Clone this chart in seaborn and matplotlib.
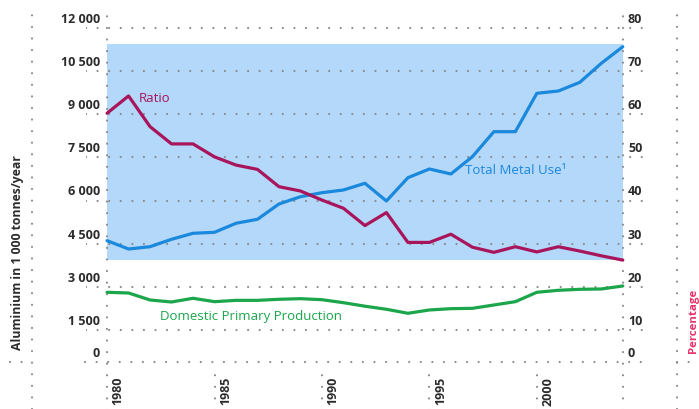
import matplotlib.pyplot as plt
import matplotlib.transforms as mtransforms
from matplotlib.lines import Line2D
import seaborn as sns

# Data
years = list(range(1980, 2005))
total_metal_use = [4605, 4316, 4396, 4653, 4861, 4896, 5209, 5348, 5879, 6132,
                   6271, 6365, 6598, 5983, 6792, 7094, 6921, 7521, 8389, 8389,
                   9722, 9802, 10104, 10764, 11340]
domestic_production = [2813, 2789, 2546, 2476, 2605, 2487, 2533, 2533, 2570, 2591,
                       2556, 2452, 2330, 2223, 2084, 2199, 2244, 2256, 2372, 2487,
                       2813, 2882, 2917, 2928, 3032]
ratio = [60.2, 64.2, 57.1, 53.1, 53.1, 50.1, 48.2, 47.2, 43.2, 42.2,
         40.1, 38.2, 34.2, 37.2, 30.3, 30.3, 32.2, 29.2, 28.0, 29.3,
         28.1, 29.3, 28.3, 27.2, 26.2]

left_ticks = [0, 1500, 3000, 4500, 6000, 7500, 9000, 10500, 12000]
left_labels = ["0", "1 500", "3 000", "4 500", "6 000", "7 500", "9 000", "10 500", "12 000"]
right_ticks = [0, 10, 20, 30, 40, 50, 60, 70, 80]
right_labels = ["0", "10", "20", "30", "40", "50", "60", "70", "80"]
year_ticks = [1980, 1985, 1990, 1995, 2000]
year_labels = ["1980", "1985", "1990", "1995", "2000"]

BLUE = "#1a88dc"
PANEL = "#b3d8fa"
RED = "#a8155a"
GREEN = "#1ba64b"
PINK = "#e6336b"
DOTS = "#8c8c8c"
TEXT = "#2b2b2b"

sns.set_style("white")
plt.rcParams["font.family"] = ["Open Sans", "DejaVu Sans"]

W, H = 699, 409
fig = plt.figure(figsize=(W / 100, H / 100), dpi=100)
ax = fig.add_axes([86 / W, (H - 361.7) / H, 557 / W, 356.7 / H])
ax.set_xlim(1979.02, 2004.94)
ax.set_ylim(403, 12788)
ax2 = ax.twinx()
ax2.set_ylim(2.69, 85.25)

for a in (ax, ax2):
    for s in a.spines.values():
        s.set_visible(False)
    a.set_yticks([])

dot = dict(color=DOTS, lw=1.6, ls=(0, (0.01, 5.2)), dash_capstyle="round")

# blue background panel
ax.fill_between([1980, 2004], 3934, 11417, color=PANEL, lw=0, zorder=0)

# dotted grid
for v in left_ticks[1:]:
    ax.axhline(v, zorder=1, **dot)
for x in (1980, 2004):
    ax.axvline(x, ymin=-0.14, ymax=1, clip_on=False, zorder=1, **dot)
for x in year_ticks[1:]:
    ax.axvline(x, ymin=-0.14, ymax=-0.035, clip_on=False, zorder=1, **dot)

yb = 1 - 361.7 / H
for x0, x1 in [(10, 32), (85, 643), (677, 699)]:
    fig.add_artist(Line2D([x0 / W, x1 / W], [yb, yb], **dot))
for x in (32, 677):
    fig.add_artist(Line2D([x / W, x / W], [0, 1 - 6 / H], **dot))

# series
sns.lineplot(x=years, y=total_metal_use, ax=ax, color=BLUE, lw=2.3, zorder=3)
sns.lineplot(x=years, y=domestic_production, ax=ax, color=GREEN, lw=2.3, zorder=3)
sns.lineplot(x=years, y=ratio, ax=ax2, color=RED, lw=2.3, zorder=3)

# y tick labels (above gridlines)
for v, lab in zip(left_ticks, left_labels):
    ax.text(0.0251, max(v, 403) + 175, lab, transform=ax.get_yaxis_transform(),
            ha="right", va="baseline", fontsize=9, fontweight="bold", color=TEXT)
for v, lab in zip(right_ticks, right_labels):
    ax2.text(0.973, max(v, 2.69) + 1.16, lab, transform=ax2.get_yaxis_transform(),
             ha="left", va="baseline", fontsize=9, fontweight="bold", color=TEXT)

# x ticks
ax.set_xticks(year_ticks, labels=year_labels, rotation=90, fontsize=9,
              fontweight="bold", color=TEXT)
ax.tick_params(axis="x", length=0, pad=11)
offset = mtransforms.ScaledTranslation(11 / 100, 0, fig.dpi_scale_trans)
for lab in ax.get_xticklabels():
    lab.set_transform(lab.get_transform() + offset)

# series labels
ax.text(1982.23, 9542, "Ratio", color=RED, fontsize=9.5, ha="center", va="center")
ax.text(1999.03, 7025, "Total Metal Use\u00b9", color=BLUE, fontsize=9.5,
        ha="center", va="center")
ax.text(1986.70, 1973, "Domestic Primary Production", color=GREEN, fontsize=9.5,
        ha="center", va="center")

# axis titles
fig.text(18 / W, 1 - 253 / H, "Aluminium in 1 000 tonnes/year", rotation=90,
         ha="center", va="center", fontsize=8.8, fontweight="bold", color=TEXT)
fig.text(693 / W, 1 - 321 / H, "Percentage", rotation=90, ha="center",
         va="center", fontsize=8.2, fontweight="bold", color=PINK)

fig.savefig("out.png", dpi=100)
